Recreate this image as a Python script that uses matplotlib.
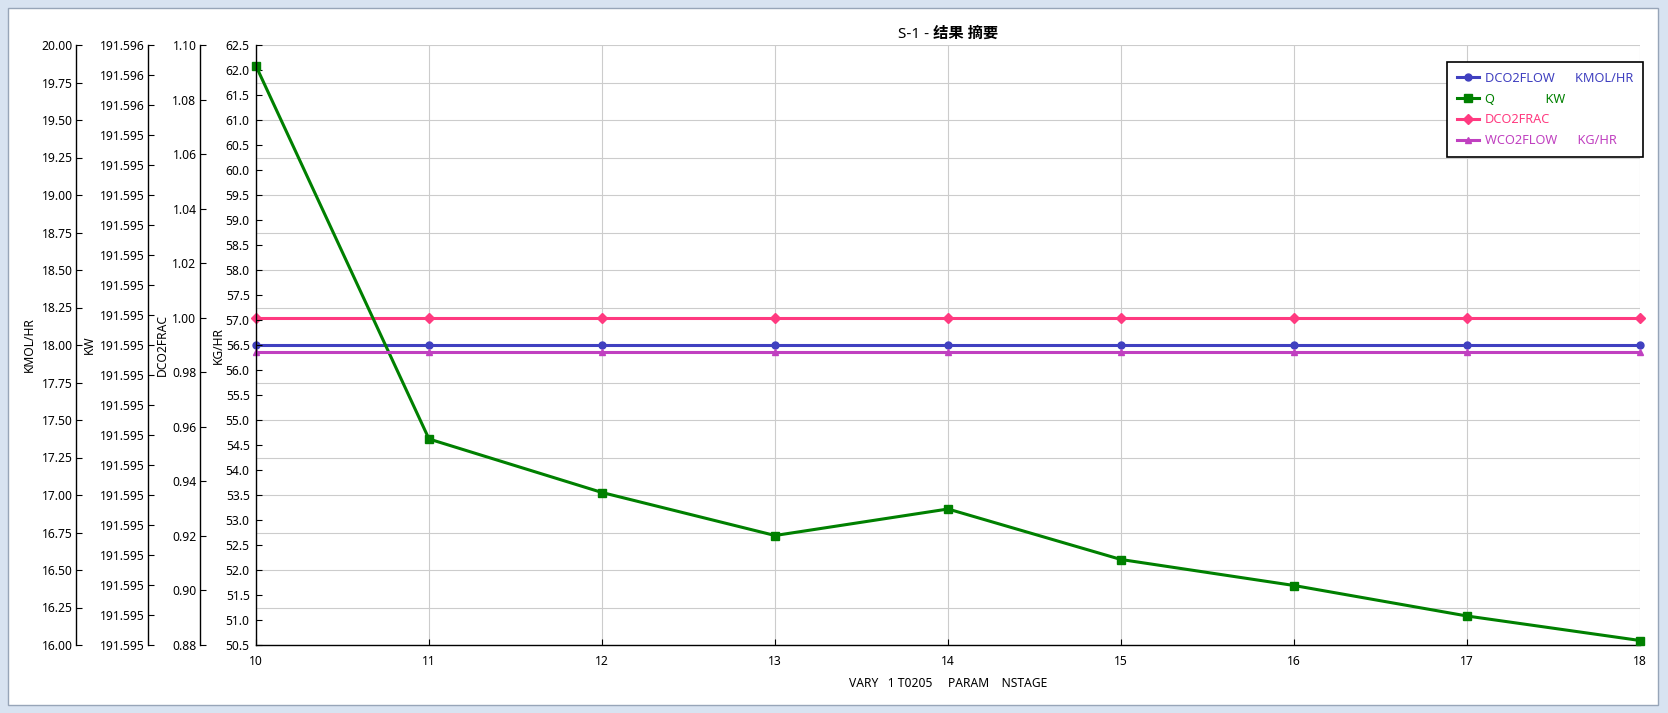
import numpy as np
import matplotlib
matplotlib.use("Agg")
from matplotlib import pyplot as plt
from matplotlib.patches import Rectangle
from matplotlib.ticker import FormatStrFormatter

plt.rcParams['font.family'] = ['Noto Sans', 'Noto Sans CJK SC', 'DejaVu Sans']

# data
nstage = [10, 11, 12, 13, 14, 15, 16, 17, 18]
dco2flow = [18.0] * 9          # KMOL/HR
q_kw = [62.08, 54.62, 53.55, 52.69, 53.22, 52.21, 51.69, 51.08, 50.59]
dco2frac = [1.0] * 9
wco2flow = [56.37] * 9          # KG/HR

title = "S-1 - 结果 摘要"
xlabel = "VARY   1 T0205     PARAM    NSTAGE"

kmol_lim = (16.0, 20.0)
kw_lim = (191.59515, 191.59555)
frac_lim = (0.88, 1.10)
kg_lim = (50.5, 62.5)

c_flow = '#4040C0'
c_q = '#008000'
c_frac = '#FF3A80'
c_wflow = '#C040C0'

W, H = 1668, 713
fig = plt.figure(figsize=(W / 100, H / 100), dpi=100)
fig.patch.set_facecolor('#D8E3F1')
fig.patches.append(Rectangle((8 / W, 8 / H), 1650 / W, 697 / H, transform=fig.transFigure,
                             facecolor='white', edgecolor='#97A5B8', lw=1, zorder=-5))

ax = fig.add_axes([256 / W, 1 - 645 / H, 1384 / W, 600 / H])
ax.patch.set_alpha(0)
ax_kw = ax.twinx()
ax_frac = ax.twinx()
ax_kg = ax.twinx()

ax.set_xlim(10, 18)
ax.set_xticks(nstage)

# host axis = KMOL/HR (carries the grid)
ax.spines['left'].set_position(('axes', -0.130))
for s in ['top', 'right']:
    ax.spines[s].set_visible(False)
ax.set_ylim(*kmol_lim)
ax.set_yticks(np.arange(16.0, 20.01, 0.25))
ax.yaxis.set_major_formatter(FormatStrFormatter('%.2f'))
ax.grid(True, color='#CCCCCC', lw=0.8)
ax.set_axisbelow(True)

ax_kw.set_ylim(*kw_lim)
ax_kw.set_yticks(np.linspace(kw_lim[0], kw_lim[1], 21))
ax_kw.yaxis.set_major_formatter(FormatStrFormatter('%.3f'))

ax_frac.set_ylim(*frac_lim)
ax_frac.set_yticks(np.arange(0.88, 1.1001, 0.02))
ax_frac.yaxis.set_major_formatter(FormatStrFormatter('%.2f'))

ax_kg.set_ylim(*kg_lim)
ax_kg.set_yticks(np.arange(50.5, 62.51, 0.5))
ax_kg.yaxis.set_major_formatter(FormatStrFormatter('%.1f'))

for a, pos in [(ax_kw, -0.078), (ax_frac, -0.0405), (ax_kg, 0.0)]:
    for s in ['top', 'right', 'bottom']:
        a.spines[s].set_visible(False)
    a.spines['left'].set_visible(True)
    a.spines['left'].set_position(('axes', pos))
    a.yaxis.tick_left()
    a.yaxis.set_label_position('left')

for a in [ax, ax_kw, ax_frac]:
    a.tick_params(axis='y', direction='in', length=4, pad=2.5, labelsize=8.7)
ax_kg.tick_params(axis='y', direction='in', length=4, pad=4.5, labelsize=8.7)
ax.tick_params(axis='x', direction='in', length=4, pad=7, labelsize=8.7)
for a in [ax, ax_kw, ax_frac, ax_kg]:
    a.spines['left'].set_linewidth(1.0)
ax.spines['bottom'].set_linewidth(1.0)

ax.set_ylabel("KMOL/HR", fontsize=8.7)
ax_kw.set_ylabel("KW", fontsize=8.7)
ax_frac.set_ylabel("DCO2FRAC", fontsize=8.7)
ax_kg.set_ylabel("KG/HR", fontsize=8.7)
ax.yaxis.set_label_coords(-0.159, 0.5)
ax_kw.yaxis.set_label_coords(-0.1156, 0.5)
ax_frac.yaxis.set_label_coords(-0.0629, 0.5)
ax_kg.yaxis.set_label_coords(-0.0225, 0.5)

ax.set_xlabel(xlabel, fontsize=8.7)
ax.xaxis.set_label_coords(0.5, -0.053)
ax.set_title(title, fontsize=11, fontweight='bold', pad=5)

l1, = ax.plot(nstage, dco2flow, color=c_flow, lw=2.2, marker='o', ms=5, clip_on=False,
              label="DCO2FLOW      KMOL/HR")
l2, = ax_kg.plot(nstage, q_kw, color=c_q, lw=2.2, marker='s', ms=5.5, clip_on=False,
                 label="Q               KW")
l3, = ax_frac.plot(nstage, dco2frac, color=c_frac, lw=2.2, marker='D', ms=5, clip_on=False,
                   label="DCO2FRAC")
l4, = ax_kg.plot(nstage, wco2flow, color=c_wflow, lw=2.2, marker='^', ms=5, clip_on=False,
                 label="WCO2FLOW      KG/HR")

leg = ax_kg.legend(handles=[l1, l2, l3, l4], loc='upper right',
                   bbox_to_anchor=(1643 / W, 1 - 62 / H), bbox_transform=fig.transFigure,
                   borderaxespad=0, fancybox=False, framealpha=1, edgecolor='black',
                   fontsize=9.2, labelcolor='linecolor', handlelength=1.7,
                   handletextpad=0.5, labelspacing=0.62, borderpad=0.75)
leg.get_frame().set_linewidth(1.2)

fig.savefig("out.png", dpi=100, facecolor=fig.get_facecolor())
